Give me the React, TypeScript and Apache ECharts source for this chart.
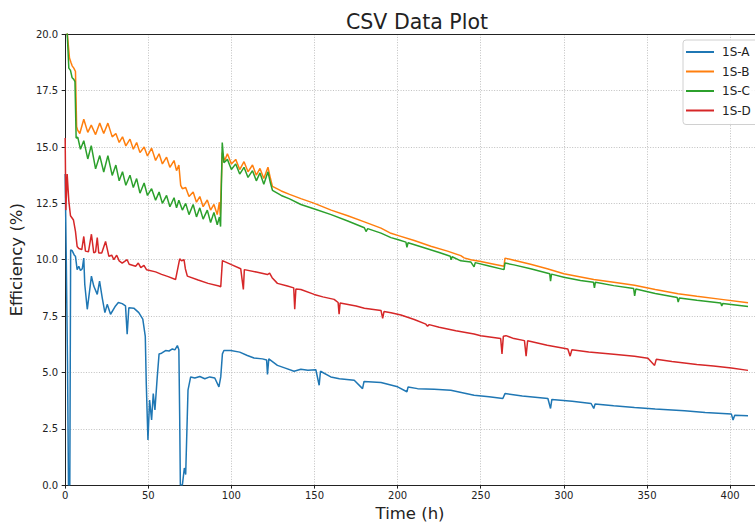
import React, { useEffect, useRef } from "react";
import * as echarts from "echarts";

const seriesNames = ["1S-A", "1S-B", "1S-C", "1S-D"];
const seriesColors = ["#1f77b4", "#ff7f0e", "#2ca02c", "#d62728"];

// [time (h), efficiency (%)]
const dataA: [number, number][] = [
  [0, 13.8], [0.6, 10.4], [1.4, 5.5], [2.0, 0], [2.8, 0], [3.3, 10.44], [4.2, 10.4], [5.5, 10.2],
  [6.2, 10.15], [7.2, 9.56], [8.2, 9.71], [9.2, 9.52], [10.3, 9.6], [11.2, 10.07], [11.8, 8.9],
  [13.3, 7.8], [15.8, 9.27], [17.2, 8.83], [19.3, 8.46], [20.7, 9.05], [22.3, 8.31], [23.9, 7.65],
  [25.3, 8.02], [27.3, 7.58], [30.3, 7.95], [32, 8.1], [34.3, 8.05], [36.3, 7.95], [37.3, 6.7],
  [38.3, 7.87], [41.3, 7.85], [44.3, 7.65], [46.7, 7.36], [48.2, 6.6], [48.8, 4.5], [49.8, 2.0],
  [50.8, 3.77], [52, 2.89], [53, 4.06], [54, 3.33], [55.4, 4.8], [56.5, 5.82], [58, 5.85],
  [60.4, 5.97], [62.5, 5.95], [64.5, 6.04], [66, 6.0], [67.5, 6.19], [68.4, 6.0], [68.9, 3.0],
  [69.3, 0], [70.5, 0], [71.7, 0.76], [72.5, 0.47], [73.9, 4.21], [75.5, 4.8], [78, 4.75],
  [81, 4.82], [84, 4.72], [87, 4.8], [90, 4.75], [92.5, 4.36], [93.6, 4.8], [94.6, 5.82],
  [95.5, 5.97], [99.6, 5.97], [105, 5.9], [109.6, 5.75], [113.6, 5.64], [118.7, 5.6],
  [121.2, 5.55], [121.7, 4.91], [122.5, 5.6], [127.7, 5.31], [132, 5.2], [137.7, 5.05],
  [141.8, 5.14], [146, 5.1], [150.8, 5.12], [152.8, 4.43], [153.6, 5.05], [159.8, 4.8],
  [165, 4.72], [173.9, 4.65], [178.9, 4.28], [179.8, 4.6], [190, 4.55], [200, 4.36],
  [205.6, 4.14], [206.3, 4.35], [212, 4.28], [222, 4.25], [232, 4.21], [246, 3.99], [255, 3.92],
  [263.3, 3.84], [264.6, 4.06], [275, 3.95], [290.4, 3.84], [292, 3.4], [292.8, 3.8], [305, 3.72],
  [316.4, 3.62], [318, 3.4], [318.8, 3.6], [330, 3.52], [342.5, 3.44], [355, 3.38], [372.6, 3.3],
  [385, 3.22], [400.8, 3.15], [401.8, 2.89], [402.8, 3.1], [410.8, 3.08],
];

const dataB: [number, number][] = [
  [0, 20.4], [1.2, 20.1], [2.6, 18.95], [3.5, 18.75], [4.2, 18.6], [5.2, 18.5], [6.2, 18.35],
  [6.9, 15.9], [7.5, 15.75], [8.8, 15.6], [11.2, 16.23], [13.6, 15.65], [15.7, 15.97],
  [18.3, 15.55], [20.8, 16.06], [23.2, 15.6], [25.7, 16.06], [28.3, 15.45], [30.5, 15.6],
  [32.5, 15.2], [34.5, 15.45], [36.5, 15.05], [39, 15.35], [41, 14.9], [43, 15.2], [45, 14.75],
  [47.5, 15.0], [49.5, 14.6], [52, 14.95], [54.4, 14.4], [56.5, 14.7], [58.5, 14.25], [61, 14.55],
  [63, 14.1], [65.5, 14.4], [67, 13.95], [68.4, 14.2], [69.5, 13.3], [70.5, 13.15], [72.5, 13.2],
  [74.5, 12.8], [77, 13.0], [79, 12.55], [81, 12.8], [83, 12.35], [85.5, 12.65], [87.5, 12.2],
  [89.5, 12.45], [91.5, 12.0], [92.8, 12.55], [93.3, 11.95], [94.5, 14.75], [96, 14.4],
  [97.6, 14.7], [100, 14.25], [102.6, 14.45], [105, 14.0], [107.6, 14.35], [110, 13.9],
  [112.7, 14.2], [115, 13.75], [117.2, 14.05], [119.5, 13.6], [122, 14.1], [123.5, 13.6],
  [124.7, 13.25], [130, 13.05], [135, 12.9], [141.8, 12.71], [150, 12.5], [160, 12.2],
  [170, 11.95], [180, 11.68], [190, 11.4], [196, 11.17], [200, 11.08], [210, 10.85], [220, 10.6],
  [230, 10.38], [238, 10.18], [240, 10.08], [244, 10.0], [250, 9.92], [258, 9.8], [264, 9.71],
  [264.6, 10.07], [270, 9.98], [280, 9.8], [290, 9.6], [300, 9.38], [318, 9.12], [330, 9.0],
  [342.5, 8.87], [355, 8.68], [368.7, 8.49], [380, 8.38], [394.8, 8.24], [410.8, 8.09],
];

const dataC: [number, number][] = [
  [0, 20.4], [1.2, 20.1], [2.2, 18.5], [3.2, 18.4], [4.2, 18.07], [5.2, 18.0], [5.9, 17.9],
  [6.6, 15.4], [7.6, 15.43], [9.2, 14.9], [11.2, 15.28], [13.6, 14.47], [15.7, 15.06],
  [18.3, 14.03], [20.8, 14.62], [23.2, 13.89], [25.7, 14.62], [28.3, 13.74], [30.5, 14.2],
  [32.5, 13.5], [34.5, 13.9], [36.5, 13.3], [39, 13.75], [41, 13.2], [43, 13.6], [45, 12.95],
  [47.5, 13.4], [49.5, 12.85], [52, 13.15], [54.4, 12.64], [56.5, 13.0], [58.5, 12.5],
  [61, 12.85], [63, 12.35], [65.5, 12.75], [67, 12.3], [68.4, 12.64], [70.5, 12.2], [72.5, 12.5],
  [74.5, 12.0], [77, 12.45], [79, 11.9], [81, 12.3], [83, 11.8], [85.5, 12.2], [87.5, 11.65],
  [89.5, 12.1], [91.5, 11.55], [92.8, 11.9], [93.5, 11.47], [94.5, 15.2], [95.5, 14.3],
  [97.6, 14.45], [100, 14.0], [102.6, 14.25], [105, 13.8], [107.6, 14.1], [110, 13.65],
  [112.7, 13.95], [115, 13.5], [117.2, 13.85], [119.5, 13.35], [122, 13.9], [123.5, 13.4],
  [124.7, 13.08], [130, 12.85], [135, 12.7], [141.8, 12.45], [150, 12.25], [160, 12.0],
  [170, 11.72], [180, 11.42], [181, 11.25], [182, 11.38], [190, 11.18], [196, 10.98], [200, 10.9],
  [205, 10.78], [205.6, 10.55], [206.3, 10.75], [215, 10.55], [225, 10.32], [231.7, 10.15],
  [232.2, 10.0], [232.8, 10.13], [238, 9.95], [244, 9.9], [246, 9.68], [246.7, 9.87], [255, 9.72],
  [264, 9.56], [264.6, 9.85], [270, 9.77], [280, 9.6], [291.5, 9.38], [292, 9.05], [292.6, 9.36],
  [300, 9.22], [310, 9.08], [317.8, 9.0], [318.4, 8.75], [319, 9.0], [330, 8.85], [342, 8.72],
  [342.6, 8.39], [343.3, 8.7], [355, 8.5], [368.2, 8.32], [368.8, 8.12], [369.5, 8.3], [380, 8.2],
  [394.4, 8.08], [395, 7.95], [395.6, 8.06], [410.8, 7.92],
];

const dataD: [number, number][] = [
  [0, 15.4], [0.4, 12.2], [1.2, 13.8], [2.2, 12.6], [3.2, 11.95], [5, 11.76], [6.2, 11.26],
  [7.2, 10.59], [8.2, 10.5], [10, 10.45], [11.2, 11.03], [12.2, 10.38], [14, 10.35], [15.8, 11.13],
  [17.2, 10.3], [18.3, 10.35], [19.3, 10.98], [20.2, 10.3], [22, 10.3], [24.3, 10.81],
  [26.3, 10.15], [28, 10.2], [29.3, 10.0], [31, 10.2], [32.5, 9.95], [34.3, 9.85], [37.3, 10.0],
  [38.5, 9.8], [42.4, 9.71], [44, 9.85], [45.5, 9.65], [47.4, 9.75], [49, 9.55], [54.4, 9.46],
  [58, 9.35], [62, 9.25], [66.4, 9.12], [68.9, 10.04], [70, 9.95], [71.5, 10.0], [72.3, 9.6],
  [73.5, 9.27], [80, 9.1], [86, 8.95], [92.5, 8.83], [93.6, 8.8], [94.6, 9.96], [100, 9.78],
  [105.6, 9.6], [107.2, 8.68], [107.8, 9.56], [115, 9.45], [121.7, 9.34], [123, 9.4], [124.5, 9.2],
  [127.7, 8.95], [133.7, 8.83], [137.5, 8.75], [138.1, 7.8], [138.8, 8.7], [141.8, 8.68],
  [149.8, 8.46], [155, 8.35], [161.8, 8.24], [164.2, 8.1], [164.8, 7.58], [165.4, 8.08],
  [175, 7.95], [180, 7.85], [190, 7.75], [191, 7.4], [191.8, 7.7], [196, 7.65], [202, 7.55],
  [210, 7.35], [217, 7.14], [218, 7.05], [219, 7.12], [225, 7.0], [235, 6.85], [246, 6.7],
  [250, 6.63], [262, 6.5], [262.8, 5.82], [263.6, 6.6], [265.2, 6.63], [270, 6.5], [276.3, 6.41],
  [277.3, 5.72], [278.2, 6.4], [290, 6.2], [302.4, 6.04], [303.8, 5.72], [304.8, 6.0], [315, 5.9],
  [330, 5.8], [342.5, 5.72], [350.6, 5.63], [354.6, 5.31], [355.6, 5.58], [365, 5.48], [380, 5.35],
  [390, 5.28], [400.8, 5.2], [410.8, 5.09],
];

const allData = [dataA, dataB, dataC, dataD];

const xMin = 0;
const xMax = 415;
const xInterval = 50;
const yMin = 0;
const yMax = 20;
const yInterval = 2.5;

const FONT = "DejaVu Sans";

export default function App() {
  const ref = useRef<HTMLDivElement>(null);

  useEffect(() => {
    if (!ref.current) return;
    const chart = echarts.init(ref.current, undefined, { renderer: "svg" });
    const gridLine = {
      show: true,
      lineStyle: { color: "#b0b0b0", width: 0.8, type: [1, 1.6] as any },
    };
    const spine = { show: true, lineStyle: { color: "#222", width: 1 } };
    chart.setOption({
      animation: false,
      backgroundColor: "#ffffff",
      textStyle: { fontFamily: FONT },
      title: {
        text: "CSV Data Plot",
        left: 412,
        top: 6,
        textAlign: "center",
        textStyle: { fontFamily: FONT, fontSize: 20.5, fontWeight: "normal", color: "#222" },
      },
      legend: {
        data: seriesNames,
        orient: "vertical",
        left: 683,
        top: 40,
        padding: [5, 20, 7, 3],
        itemWidth: 28,
        itemHeight: 14,
        itemGap: 5.5,
        icon: "path://M0,0 L28,0 L28,2 L0,2 Z",
        backgroundColor: "rgba(255,255,255,0.85)",
        borderColor: "#d0d0d0",
        borderWidth: 1,
        borderRadius: 3,
        textStyle: { fontFamily: FONT, fontSize: 12, color: "#222", lineHeight: 14, padding: [0, 0, 0, 3] },
      },
      grid: {
        left: 64.7,
        top: 34.3,
        bottom: 38,
        right: 0,
        show: false,
        containLabel: false,
      },
      xAxis: [
        {
          type: "value",
          min: xMin,
          max: xMax,
          interval: xInterval,
          name: "Time (h)",
          nameLocation: "middle",
          nameGap: 19,
          nameTextStyle: { fontFamily: FONT, fontSize: 16.5, color: "#222" },
          axisLine: spine,
          axisTick: { show: true, length: 3.5, lineStyle: { color: "#222" } },
          axisLabel: { showMaxLabel: false, fontFamily: FONT, fontSize: 10, color: "#222", margin: 5 },
          splitLine: gridLine,
        },
        {
          type: "value",
          position: "top",
          min: xMin,
          max: xMax,
          interval: xInterval,
          axisLine: spine,
          axisTick: { show: false },
          axisLabel: { show: false },
          splitLine: { show: false },
        },
      ],
      yAxis: {
        type: "value",
        min: yMin,
        max: yMax,
        interval: yInterval,
        name: "Efficiency (%)",
        nameLocation: "middle",
        nameGap: 36,
        nameTextStyle: { fontFamily: FONT, fontSize: 16.5, color: "#222" },
        axisLine: spine,
        axisTick: { show: true, length: 3.5, lineStyle: { color: "#222" } },
        axisLabel: {
          fontFamily: FONT,
          fontSize: 10,
          color: "#222",
          margin: 7,
          formatter: (v: number) => v.toFixed(1),
        },
        splitLine: gridLine,
      },
      series: seriesNames.map((name, i) => ({
        name,
        type: "line",
        xAxisIndex: 0,
        data: allData[i],
        symbol: "none",
        showSymbol: false,
        clip: true,
        lineStyle: { color: seriesColors[i], width: 1.5 },
        itemStyle: { color: seriesColors[i] },
        z: 2 + i,
      })),
    });
    return () => chart.dispose();
  }, []);

  return <div ref={ref} style={{ width: 755, height: 527, position: "absolute", left: 0, top: 0 }} />;
}
